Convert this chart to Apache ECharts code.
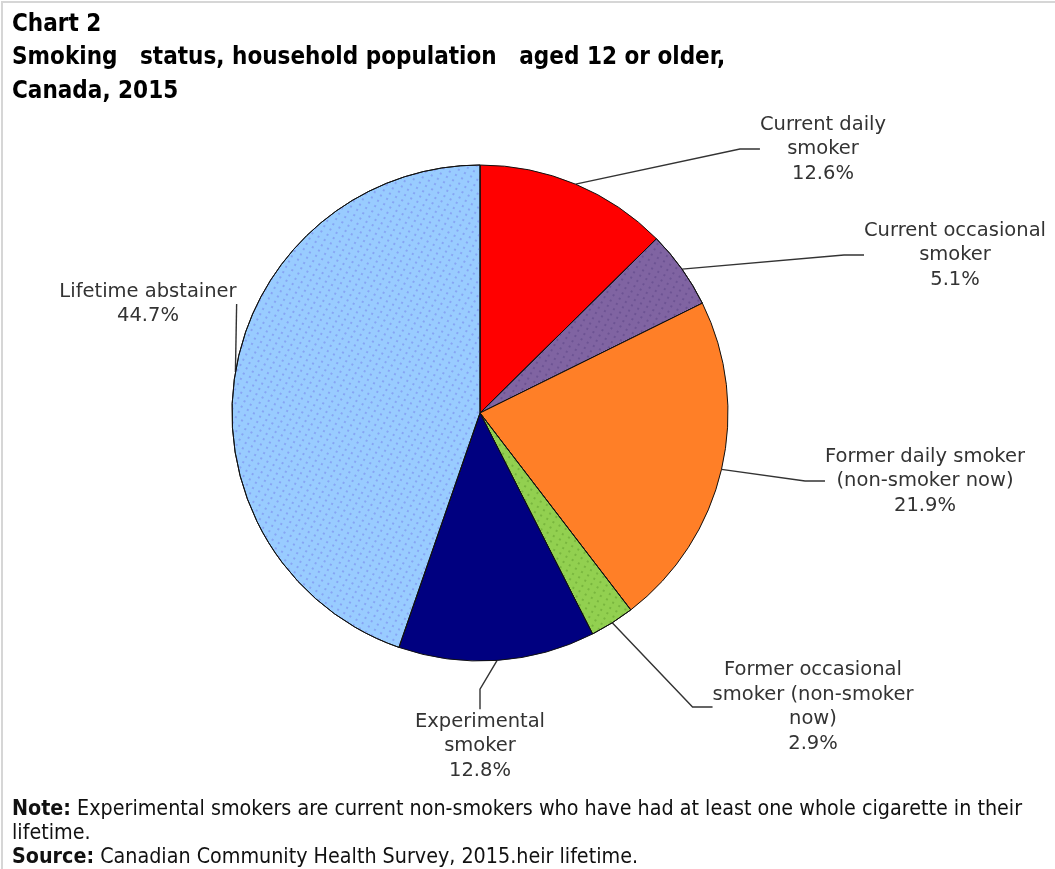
<!DOCTYPE html>
<html>
<head>
<meta charset="utf-8">
<script src="https://cdn.jsdelivr.net/npm/echarts@6/dist/echarts.min.js"></script>
<style>
html,body{margin:0;padding:0;background:#fff;}
#chart{position:absolute;left:0;top:0;width:1055px;height:869px;}
#frame{position:absolute;left:1px;top:1px;width:1060px;height:880px;border-top:2px solid #d6d6d6;border-left:2px solid #d6d6d6;pointer-events:none;}
</style>
</head>
<body>
<div id="chart"></div>
<div id="frame"></div>
<script>
// ---- data ----
const categories = [
  'Current daily\nsmoker',
  'Current occasional\nsmoker',
  'Former daily smoker\n(non-smoker now)',
  'Former occasional\nsmoker (non-smoker\nnow)',
  'Experimental\nsmoker',
  'Lifetime abstainer'
];
const values = [12.6, 5.1, 21.9, 2.9, 12.8, 44.7];

// ---- styles / label placement (not data) ----
const colors = ['#FF0000', '#8064A2', '#FF7F27', '#92D050', '#000080', '#99CCFF'];
const dotted = [false, true, false, true, false, true];
const dotColors = ['', 'rgba(70,50,120,0.45)', '', 'rgba(90,150,40,0.6)', '', 'rgba(110,110,230,0.55)'];
const labelPos = [[823, 149], [955, 255], [925, 481], [813, 707], [480, 746], [148, 304]];

const data = categories.map((name, i) => {
  const itemStyle = {color: colors[i]};
  if (dotted[i]) {
    itemStyle.decal = {
      symbol: 'circle',
      symbolSize: 1,
      dashArrayX: [2, 5],
      dashArrayY: [2, 4],
      rotation: 0.5,
      color: dotColors[i]
    };
  }
  return {name: name, value: values[i], itemStyle: itemStyle};
});

const chart = echarts.init(document.getElementById('chart'), null, {renderer: 'canvas'});
chart.setOption({
  backgroundColor: '#ffffff',
  animation: false,
  title: [{
    text: 'Chart 2\nSmoking   status, household population   aged 12 or older,\nCanada, 2015',
    left: 7, top: 3,
    textStyle: {fontFamily: 'DejaVu Sans Condensed', fontWeight: 'bold', fontSize: 24, lineHeight: 33.5, color: '#000'}
  }, {
    text: '{b|Note:} Experimental smokers are current non-smokers who have had at least one whole cigarette in their\nlifetime.\n{b|Source:} Canadian Community Health Survey, 2015.heir lifetime.',
    left: 7, top: 792,
    textStyle: {
      fontFamily: 'DejaVu Sans Condensed', fontWeight: 'normal', fontSize: 21.3, lineHeight: 24, color: '#111',
      rich: {b: {fontFamily: 'DejaVu Sans Condensed', fontWeight: 'bold', fontSize: 21.3, lineHeight: 24, color: '#111'}}
    }
  }],
  series: [{
    type: 'pie',
    center: [480, 413],
    radius: [0, 248],
    startAngle: 90,
    clockwise: true,
    avoidLabelOverlap: false,
    data: data,
    itemStyle: {borderColor: '#111', borderWidth: 1},
    label: {
      show: true,
      formatter: '{b}\n{c}%',
      fontFamily: 'DejaVu Sans',
      fontSize: 19.5,
      lineHeight: 24.5,
      color: '#333',
      align: 'center'
    },
    labelLine: {show: true, length: 20, length2: 20, lineStyle: {color: '#333', width: 1.4}},
    labelLayout: function (params) {
      const p = labelPos[params.dataIndex];
      return {x: p[0], y: p[1], align: 'center', verticalAlign: 'middle'};
    },
    emphasis: {disabled: true}
  }]
});
</script>
</body>
</html>
